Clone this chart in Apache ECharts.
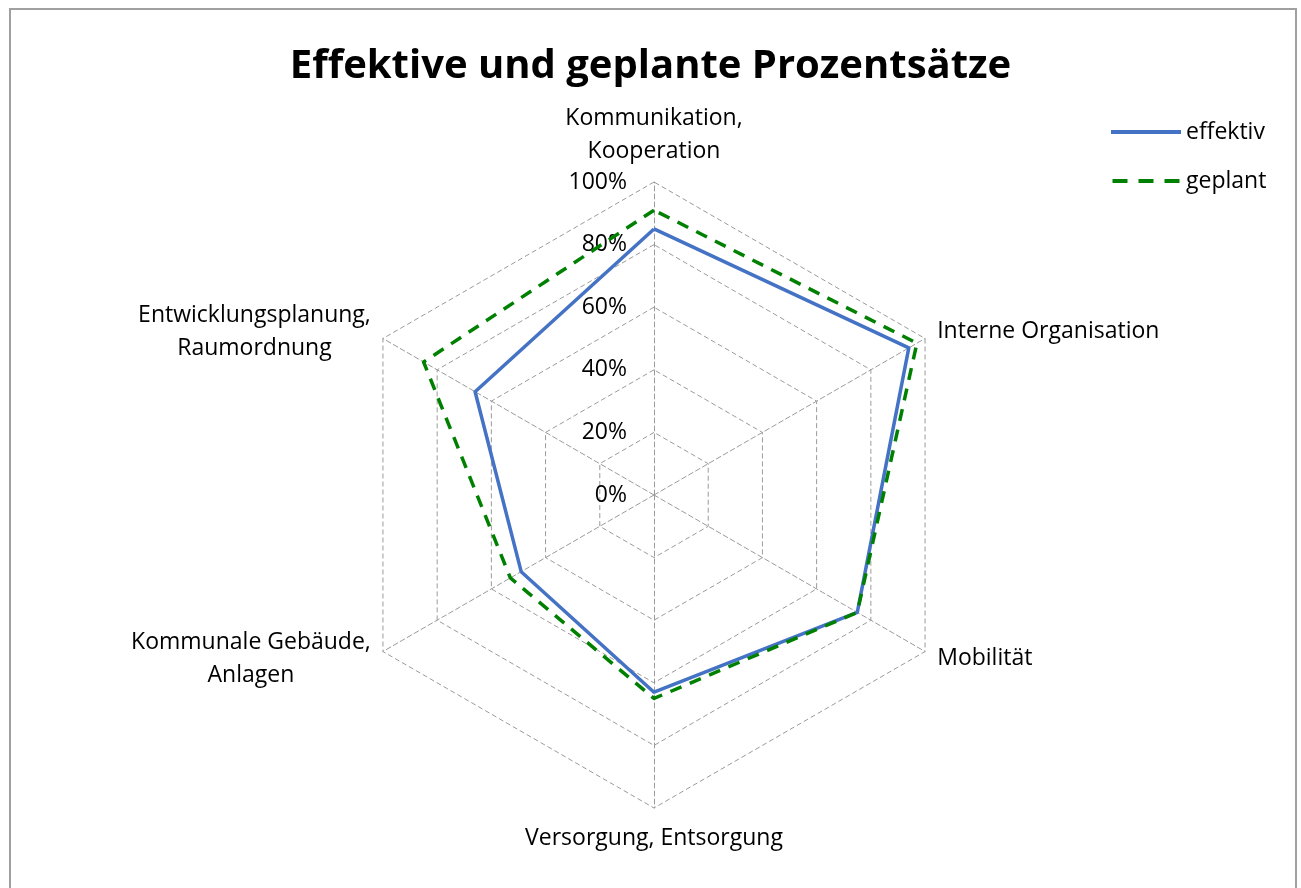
<!DOCTYPE html>
<html>
<head>
<meta charset="utf-8">
<script src="https://cdn.jsdelivr.net/npm/echarts@6/dist/echarts.min.js"></script>
<style>
  html, body { margin: 0; padding: 0; background: #fff; }
  #main { width: 1301px; height: 888px; }
</style>
</head>
<body>
<div id="main"></div>
<script>
// Kategorien im Uhrzeigersinn, oben beginnend
var categories = ['Kommunikation,\nKooperation', 'Interne Organisation', 'Mobilität',
  'Versorgung, Entsorgung', 'Kommunale Gebäude,\nAnlagen', 'Entwicklungsplanung,\nRaumordnung'];
var effektiv = [85, 94, 75, 63, 49, 66];
var geplant = [91, 97, 75, 65, 53, 85];
var tickValues = [0, 20, 40, 60, 80, 100];

var FONT = '"Open Sans", "Noto Sans", sans-serif';
var GRID = '#9a9a9a';

// echarts legt die Achsen gegen den Uhrzeigersinn an -> umsortieren
var order = [0, 5, 4, 3, 2, 1];
function reorder(arr) {
  return order.map(function (i) { return arr[i]; });
}

var indicators = reorder(categories).map(function (name, i) {
  var ind = { name: name, min: tickValues[0], max: tickValues[tickValues.length - 1] };
  if (i === 0) {
    ind.axisLabel = {
      show: true,
      color: '#000',
      fontSize: 23,
      fontFamily: FONT,
      margin: 27,
      formatter: function (v) { return v + '%'; }
    };
  }
  return ind;
});

var chart = echarts.init(document.getElementById('main'));
chart.setOption({
  animation: false,
  title: {
    text: 'Effektive und geplante Prozentsätze',
    left: 'center',
    top: 42,
    textStyle: { fontFamily: FONT, fontSize: 40, fontWeight: 'bold', color: '#000' }
  },
  legend: {
    orient: 'vertical',
    left: 1111,
    top: 119,
    padding: 0,
    itemWidth: 70,
    itemHeight: 4,
    itemGap: 23,
    textStyle: { fontFamily: FONT, fontSize: 23, color: '#000', lineHeight: 26 },
    data: [
      { name: 'effektiv', icon: 'path://M0,0H70V4H0Z' },
      { name: 'geplant', icon: 'path://M0,0H15V4H0Z M26,0H41V4H26Z M52,0H67V4H52Z' }
    ]
  },
  radar: {
    center: [654, 495],
    radius: 313,
    startAngle: 90,
    shape: 'polygon',
    splitNumber: tickValues.length - 1,
    indicator: indicators,
    nameGap: 14,
    axisName: {
      color: '#000',
      fontSize: 23,
      fontFamily: FONT,
      formatter: function (name) {
        return name.split('\n').map(function (s) { return '{c|' + s + '}'; }).join('\n');
      },
      rich: { c: { align: 'center', fontSize: 23, fontFamily: FONT, color: '#000', lineHeight: 33 } }
    },
    splitLine: { lineStyle: { color: GRID, width: 1, type: [5, 3] } },
    splitArea: { show: false },
    axisLine: { lineStyle: { color: GRID, width: 1, type: [5, 3] } },
    axisTick: { show: false },
    axisLabel: { show: false }
  },
  series: [{
    type: 'radar',
    symbol: 'none',
    silent: true,
    data: [
      {
        name: 'effektiv',
        value: reorder(effektiv),
        lineStyle: { color: '#4472C4', width: 3.5 },
        itemStyle: { color: '#4472C4' }
      },
      {
        name: 'geplant',
        value: reorder(geplant),
        lineStyle: { color: '#008000', width: 3.5, type: [12, 9] },
        itemStyle: { color: '#008000' }
      }
    ]
  }],
  graphic: [{
    type: 'rect',
    shape: { x: 10, y: 9, width: 1286, height: 900 },
    style: { fill: 'none', stroke: '#a0a0a0', lineWidth: 2 },
    silent: true
  }]
});
</script>
</body>
</html>
